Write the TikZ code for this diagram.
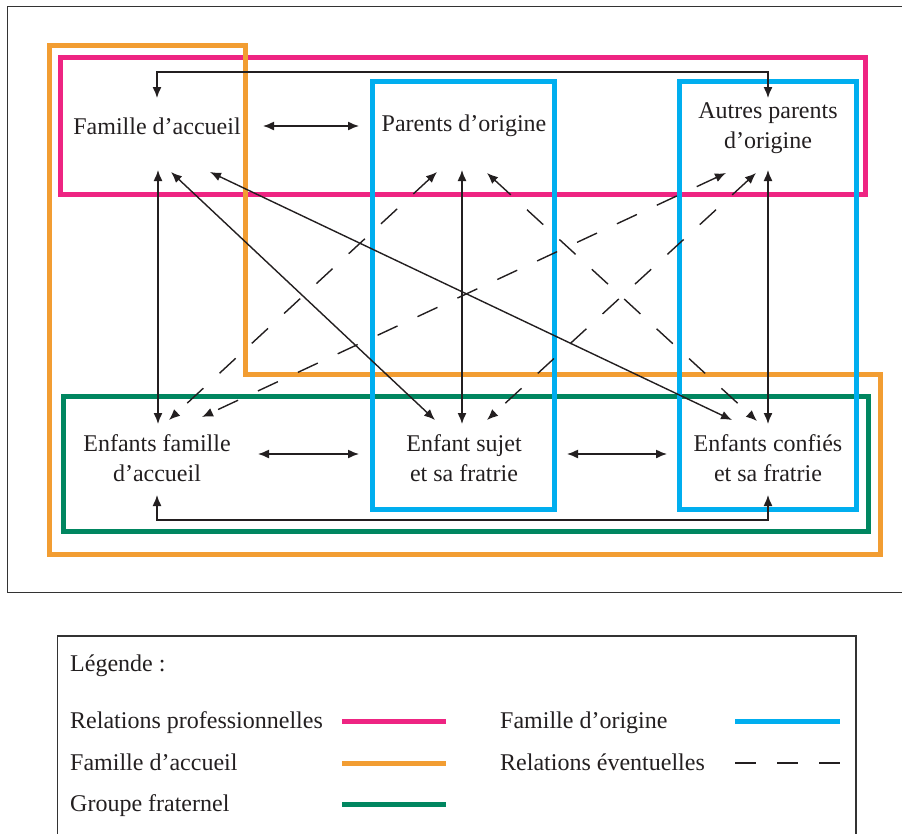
\documentclass[tikz,border=0pt]{standalone}
\usepackage{fontspec}
\setmainfont{Liberation Serif}
\usetikzlibrary{arrows.meta,calc}
\definecolor{cpink}{RGB}{238,36,130}
\definecolor{corange}{RGB}{242,157,50}
\definecolor{cblue}{RGB}{0,174,239}
\definecolor{cgreen}{RGB}{0,134,96}
\definecolor{cline}{RGB}{35,31,32}
\begin{document}
\begin{tikzpicture}[x=1pt,y=-1pt,
  font=\fontsize{24}{30}\selectfont,
  lbl/.style={align=center,text=cline,inner sep=0pt},
  legtext/.style={anchor=base west,text=cline,inner sep=0pt},
  rel/.style={draw=cline,line width=1.4pt,{Latex[length=11pt,width=9pt]}-{Latex[length=11pt,width=9pt]}},
  opt/.style={rel,dash pattern=on 22pt off 22pt},
  grp/.style={line width=5pt},
  framebox/.style={draw=black!80,line width=1.5pt}]
\useasboundingbox (0,0) rectangle (902,833);
\clip (0,0) rectangle (902,833);

% frames
\draw[framebox] (7.3,6.7) rectangle (915,592.5);
\draw[framebox] (57.5,636) rectangle (856,850);

% group boxes
\draw[grp,cpink] (60,57) rectangle (865,194);
\draw[grp,corange] (49,45) -- (245.5,45) -- (245.5,374.5) -- (880,374.5) -- (880,554.5) -- (49,554.5) -- cycle;
\draw[grp,cgreen] (63,396) rectangle (868,531.5);
\draw[grp,cblue] (372.5,81.5) rectangle (554,509.5);
\draw[grp,cblue] (679.5,81.5) rectangle (856.5,509.5);

% nodes
\node[lbl] (FA) at (157,126) {Famille d’accueil};
\node[lbl] (PO) at (464,126) {Parents d’origine};
\node[lbl] (AP) at (768,128) {Autres parents\\d’origine};
\node[lbl] (EFA) at (157,458) {Enfants famille\\d’accueil};
\node[lbl] (ES) at (464,458) {Enfant sujet\\et sa fratrie};
\node[lbl] (EC) at (768,458) {Enfants confiés\\et sa fratrie};

% horizontal relations
\draw[rel] ($(FA)+(106,0)$) -- ($(PO)+(-105,0)$);
\draw[rel] ($(EFA)+(101,-4)$) -- ($(ES)+(-105,-4)$);
\draw[rel] ($(ES)+(103,-4)$) -- ($(EC)+(-101,-4)$);

% brackets
\draw[rel] ($(FA)+(0,-28)$) |- ($(AP)+(0,-56)$) -- ($(AP)+(0,-30)$);
\draw[rel] ($(EFA)+(0,37)$) |- ($(EC)+(0,62)$) -- ($(EC)+(0,37)$);

% verticals
\draw[rel] ($(FA)+(1,44)$) -- ($(EFA)+(1,-34)$);
\draw[rel] ($(PO)+(-2,44)$) -- ($(ES)+(-2,-34)$);
\draw[rel] ($(AP)+(0,42)$) -- ($(EC)+(0,-34)$);

% solid diagonals
\draw[rel] ($(FA)+(14,46)$) -- ($(ES)+(-29,-38)$);
\draw[rel] ($(FA)+(53,46)$) -- ($(EC)+(-36,-38)$);

% dashed diagonals
\draw[opt] ($(PO)+(-27,46)$) -- ($(EFA)+(12,-38)$);
\draw[opt] ($(AP)+(-42,45)$) -- ($(EFA)+(45,-41)$);
\draw[opt] ($(PO)+(23,47)$) -- ($(EC)+(-11,-37)$);
\draw[opt] ($(AP)+(-12,45)$) -- ($(ES)+(23,-38)$);

% legend
\node[legtext] (lg) at (70,671) {Légende :};
\node[legtext] (l1) at (70,728) {Relations professionnelles};
\node[legtext] (l2) at (70,770) {Famille d’accueil};
\node[legtext] (l3) at (70,811) {Groupe fraternel};
\node[legtext] (l4) at (500,728) {Famille d’origine};
\node[legtext] (l5) at (500,770) {Relations éventuelles};
\coordinate (k1a) at (342,721); \coordinate (k1b) at (446,721);
\coordinate (k2a) at (342,763); \coordinate (k2b) at (446,763);
\coordinate (k3a) at (342,804); \coordinate (k3b) at (446,804);
\coordinate (k4a) at (735,721); \coordinate (k4b) at (840,721);
\coordinate (k5a) at (735,763); \coordinate (k5b) at (840,763);
\draw[grp,cpink] (k1a) -- (k1b);
\draw[grp,corange] (k2a) -- (k2b);
\draw[grp,cgreen] (k3a) -- (k3b);
\draw[grp,cblue] (k4a) -- (k4b);
\draw[draw=cline,line width=1.4pt,dash pattern=on 21pt off 21pt] (k5a) -- (k5b);
\end{tikzpicture}
\end{document}
